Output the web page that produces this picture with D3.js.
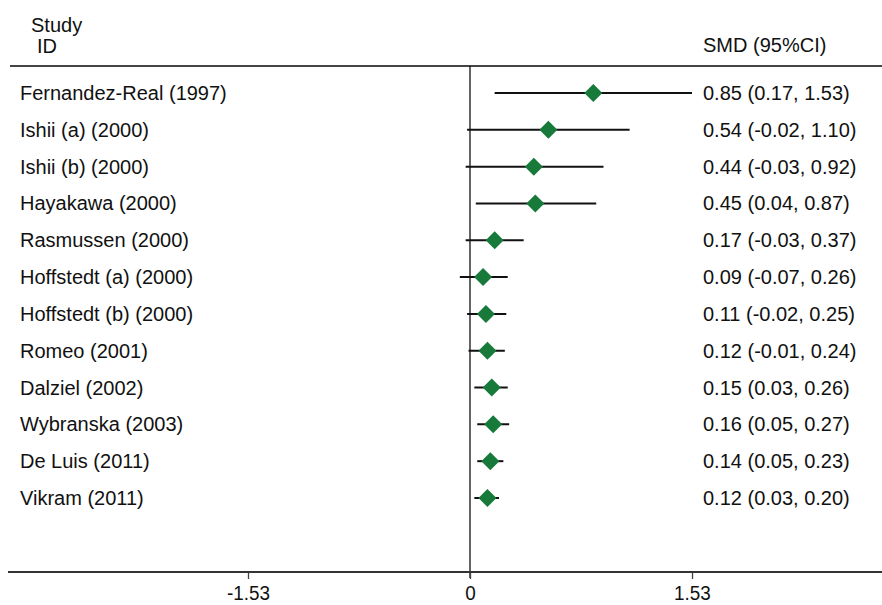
<!DOCTYPE html>
<html>
<head lang="en">
    <meta charset="UTF-8">
    <title>forest plot</title>
    <style>
        body { margin: 0; background: #fff; }
        .lbl { font-family: "Liberation Sans", Arial, sans-serif; font-size: 20px; fill: #111; }
    </style>
</head>
<body>
<svg width="882" height="605"></svg>

<script src="https://cdn.jsdelivr.net/npm/d3@7/dist/d3.min.js"></script>
<script>
    var studies = ["Fernandez-Real (1997)", "Ishii (a) (2000)", "Ishii (b) (2000)", "Hayakawa (2000)",
        "Rasmussen (2000)", "Hoffstedt (a) (2000)", "Hoffstedt (b) (2000)", "Romeo (2001)",
        "Dalziel (2002)", "Wybranska (2003)", "De Luis (2011)", "Vikram (2011)"];
    var smd   = [0.85, 0.54, 0.44, 0.45, 0.17, 0.09, 0.11, 0.12, 0.15, 0.16, 0.14, 0.12];
    var lower = [0.17, -0.02, -0.03, 0.04, -0.03, -0.07, -0.02, -0.01, 0.03, 0.05, 0.05, 0.03];
    var upper = [1.53, 1.10, 0.92, 0.87, 0.37, 0.26, 0.25, 0.24, 0.26, 0.27, 0.23, 0.20];
    var ticks = [-1.53, 0, 1.53];

    var fmt = d3.formatLocale({decimal: ".", thousands: ",", grouping: [3], currency: ["", ""], minus: "-"}).format(".2f");
    var rows = studies.map(function (s, i) {
        return {name: s, est: smd[i], lo: lower[i], hi: upper[i]};
    });

    var svg = d3.select("svg");

    var x = d3.scaleLinear().domain([-1.53, 1.53]).range([248, 692]);
    var y = d3.scalePoint().domain(studies).range([93, 498]);

    // header
    svg.append("text").attr("class", "lbl").attr("x", 31).attr("y", 32).text("Study");
    svg.append("text").attr("class", "lbl").attr("x", 37).attr("y", 53).text("ID");
    svg.append("text").attr("class", "lbl").attr("x", 703).attr("y", 52).text("SMD (95%CI)");

    svg.append("line")
        .attr("x1", 10).attr("x2", 882).attr("y1", 66).attr("y2", 66)
        .attr("stroke", "#444").attr("stroke-width", 2);

    // null line
    svg.append("line")
        .attr("x1", x(0)).attr("x2", x(0)).attr("y1", 66).attr("y2", 578)
        .attr("stroke", "#111").attr("stroke-width", 1.3);

    // axis
    var axis = d3.axisBottom(x)
        .tickValues(ticks)
        .tickSizeInner(7)
        .tickSizeOuter(0)
        .tickPadding(6)
        .tickFormat(function (d) { return d === 0 ? "0" : fmt(d); });

    var ax = svg.append("g").attr("transform", "translate(0,572)").call(axis);
    ax.select(".domain").remove();
    ax.selectAll(".tick line").attr("stroke", "#444").attr("stroke-width", 1.3);
    ax.selectAll(".tick text")
        .style("font-family", "'Liberation Sans', Arial, sans-serif")
        .style("font-size", "21px")
        .attr("fill", "#111")
        .attr("transform", "scale(0.9,1)");
    svg.append("line")
        .attr("x1", 8).attr("x2", 882).attr("y1", 572).attr("y2", 572)
        .attr("stroke", "#333").attr("stroke-width", 2);

    var g = svg.selectAll("g.row")
        .data(rows)
        .enter()
        .append("g")
        .attr("class", "row");

    g.append("text")
        .attr("class", "lbl")
        .attr("x", 20)
        .attr("y", function (d) { return y(d.name) + 7; })
        .text(function (d) { return d.name; });

    g.append("text")
        .attr("class", "lbl")
        .attr("x", 703)
        .attr("y", function (d) { return y(d.name) + 7; })
        .text(function (d) { return fmt(d.est) + " (" + fmt(d.lo) + ", " + fmt(d.hi) + ")"; });

    g.append("line")
        .attr("x1", function (d) { return x(d.lo); })
        .attr("x2", function (d) { return x(d.hi); })
        .attr("y1", function (d) { return y(d.name); })
        .attr("y2", function (d) { return y(d.name); })
        .attr("stroke", "#111")
        .attr("stroke-width", 2);

    var r = 9;
    g.append("path")
        .attr("d", function (d) {
            var cx = x(d.est), cy = y(d.name);
            return "M" + (cx - r) + "," + cy + "L" + cx + "," + (cy - r) +
                "L" + (cx + r) + "," + cy + "L" + cx + "," + (cy + r) + "Z";
        })
        .attr("fill", "#177a3a");
</script>
</body>
</html>
